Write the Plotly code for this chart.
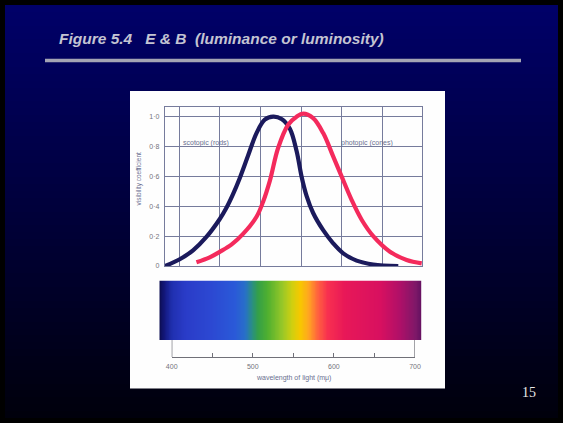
import numpy as np
import plotly.graph_objects as go

W, H = 563, 423

# ---------------- data ----------------
# scotopic (rods) curve: wavelength (nm, as drawn) -> visibility coefficient
scot_wl = [391.7, 409.9, 426.3, 442.8, 459.3, 467.0, 475.5, 484.0, 494.2, 504.6, 514.8, 525.1,
           535.4, 545.7, 554.0, 560.1, 566.3, 574.4, 586.8, 599.1, 611.5, 628.0, 648.5, 679.4]
scot_v = [0.0, 0.045, 0.105, 0.195, 0.315, 0.385, 0.48, 0.59, 0.74, 0.89, 0.98, 1.0,
          0.985, 0.92, 0.77, 0.60, 0.47, 0.355, 0.24, 0.152, 0.085, 0.036, 0.01, 0.0]

# photopic (cones) curve
phot_wl = [430.5, 446.9, 459.6, 474.0, 488.0, 504.6, 512.7, 521.0, 531.2, 543.6, 554.0, 562.1,
           574.4, 586.8, 599.1, 609.5, 621.8, 634.2, 648.5, 669.1, 689.7, 708.3]
phot_v = [0.025, 0.058, 0.096, 0.145, 0.215, 0.33, 0.43, 0.57, 0.79, 0.946, 1.0, 1.02,
          0.99, 0.89, 0.734, 0.60, 0.443, 0.31, 0.20, 0.096, 0.04, 0.018]

y_ticks = [0, 0.2, 0.4, 0.6, 0.8, 1.0]
y_ticktext = ["0", "0·2", "0·4", "0·6", "0·8", "1·0"]
grid_wl = [409.5, 459.5, 509.5, 559.5, 609.5, 659.5]

wl_ticks = [400, 450, 500, 550, 600, 650, 700]
wl_ticktext = ["400", "", "500", "", "600", "", "700"]

# spectrum colour stops (nm -> colour)
spec_nm = [384.3, 391.7, 400, 416, 447, 478, 490, 499, 506, 518, 536, 548, 558,
           568, 580, 592, 613, 657, 681, 700, 708.3]
spec_col = ["#0c0c50", "#151a84", "#2030b0", "#2a3cc8", "#2c48d2", "#2a5ad8", "#2870c8",
            "#2a9080", "#34a048", "#50b030", "#98c828", "#d0d010", "#f8c800", "#ffa820",
            "#ff6040", "#f83050", "#e81858", "#d81060", "#b01068", "#801868", "#601060"]

# ---------------- helpers (pixel -> paper / wavelength) ----------------
def px(x):
    return x / W

def py(y):
    return 1 - y / H

PX_PER_NM = 0.811
X400 = 171.7

def wl(x):
    return 400 + (x - X400) / PX_PER_NM

fig = go.Figure()

# background gradient
rows = 60
bg_y = np.linspace(5, 418, rows + 1)
bg_z = [[i] for i in range(rows)]
fig.add_trace(go.Heatmap(x=[5, 558], y=bg_y, z=bg_z,
                         colorscale=[[0, "#000068"], [0.5, "#00003a"], [1, "#00000c"]],
                         showscale=False, hoverinfo="skip", xaxis="x", yaxis="y"))
# white panel
fig.add_trace(go.Scatter(x=[130, 445, 445, 130, 130], y=[91, 91, 388.5, 388.5, 91],
                         fill="toself", fillcolor="#fefefe", mode="lines",
                         line=dict(width=0, color="#fefefe"), hoverinfo="skip",
                         showlegend=False, xaxis="x", yaxis="y"))
# title underline
fig.add_trace(go.Scatter(x=[45, 521], y=[60.5, 60.5], mode="lines",
                         line=dict(width=3.5, color="#a4a4b4"), hoverinfo="skip",
                         showlegend=False, xaxis="x", yaxis="y"))

# curves
fig.add_trace(go.Scatter(x=scot_wl, y=scot_v, mode="lines", line_shape="spline",
                         line=dict(color="#1b1a5c", width=4.2), showlegend=False,
                         xaxis="x2", yaxis="y2"))
fig.add_trace(go.Scatter(x=phot_wl, y=phot_v, mode="lines", line_shape="spline",
                         line=dict(color="#f42a5c", width=4.2), showlegend=False,
                         xaxis="x2", yaxis="y2"))

# spectrum bar
x_lo, x_hi = wl(159.3), wl(421.7)
sx = np.linspace(x_lo, x_hi, 330)
lo, hi = spec_nm[0], spec_nm[-1]
cscale = [[(n - lo) / (hi - lo), c] for n, c in zip(spec_nm, spec_col)]
cscale[0][0] = 0.0
cscale[-1][0] = 1.0
fig.add_trace(go.Heatmap(x=sx, y=[0, 1], z=[list(sx), list(sx)], zmin=lo, zmax=hi,
                         colorscale=cscale, showscale=False, zsmooth="best",
                         hoverinfo="skip", xaxis="x3", yaxis="y3"))

# bottom wavelength axis holder
fig.add_trace(go.Scatter(x=[400, 700], y=[0, 0], mode="markers", marker=dict(opacity=0),
                         showlegend=False, hoverinfo="skip", xaxis="x4", yaxis="y4"))

grid_col = "#767b9c"
lab_font = dict(family="Liberation Sans, Arial, sans-serif", size=7, color="#74747c")

fig.update_layout(
    template="none",
    width=W, height=H,
    autosize=False,
    margin=dict(l=0, r=0, t=0, b=0, pad=0),
    paper_bgcolor="#000000",
    plot_bgcolor="rgba(0,0,0,0)",
    showlegend=False,
    xaxis=dict(domain=[0, 1], range=[0, W], visible=False, fixedrange=True, automargin=False),
    yaxis=dict(domain=[0, 1], range=[H, 0], visible=False, fixedrange=True, automargin=False),
    xaxis2=dict(domain=[px(165), px(422)], range=[wl(165), wl(422)], anchor="y2",
                tickvals=grid_wl, showticklabels=False, ticks="", automargin=False,
                showgrid=True, gridcolor=grid_col, gridwidth=1.1,
                showline=True, mirror=True, linecolor=grid_col, linewidth=1.4,
                zeroline=False),
    yaxis2=dict(domain=[py(266), py(107)], range=[0, (266 - 107) / 149.3], anchor="x2",
                tickvals=y_ticks, ticktext=y_ticktext, ticks="", automargin=False,
                tickfont=lab_font, ticklabelstandoff=3,
                showgrid=True, gridcolor=grid_col, gridwidth=1.1,
                showline=True, mirror=True, linecolor=grid_col, linewidth=1.4,
                zeroline=False),
    xaxis3=dict(domain=[px(159.3), px(421.7)], range=[x_lo, x_hi], anchor="y3",
                visible=False, automargin=False),
    yaxis3=dict(domain=[py(340), py(280.5)], range=[0, 1], anchor="x3", visible=False,
                automargin=False),
    xaxis4=dict(domain=[px(X400), px(X400 + 300 * PX_PER_NM)], range=[400, 700],
                anchor="y4", tickvals=wl_ticks, ticktext=wl_ticktext, automargin=False,
                ticks="inside", ticklen=4, tickcolor="#707078", tickwidth=1.2,
                showline=True, linecolor="#707078", linewidth=1.3,
                showgrid=False, zeroline=False, tickfont=lab_font, ticklabelstandoff=2),
    yaxis4=dict(domain=[py(357), py(340)], range=[0, 1], anchor="x4", visible=False,
                automargin=False),
)

# end ticks of the wavelength axis
for v in (400, 700):
    fig.add_shape(type="line", xref="x4", yref="y4 domain", x0=v, x1=v, y0=0, y1=1,
                  line=dict(color="#707078", width=1.3))

ann = [
    dict(text="<b><i>Figure 5.4\u00a0\u00a0\u00a0E &amp; B\u00a0\u00a0(luminance or luminosity)</i></b>",
         x=px(57), y=py(38), xanchor="left", yanchor="middle",
         font=dict(family="Liberation Sans, Arial, sans-serif", size=15.5, color="#c4c4d2")),
    dict(text="15", x=px(529), y=py(392), xanchor="center", yanchor="middle",
         font=dict(family="Liberation Serif, Times New Roman, serif", size=14, color="#e8e8e8")),
    dict(text="scotopic (rods)", x=px(206), y=py(143), xanchor="center", yanchor="middle",
         font=dict(family="Liberation Sans, Arial, sans-serif", size=7, color="#6a6f90")),
    dict(text="photopic (cones)", x=px(367), y=py(142.5), xanchor="center", yanchor="middle",
         font=dict(family="Liberation Sans, Arial, sans-serif", size=7, color="#6a6f90")),
    dict(text="visibility coefficient", x=px(138.5), y=py(179), xanchor="center",
         yanchor="middle", textangle=-90,
         font=dict(family="Liberation Sans, Arial, sans-serif", size=6.5, color="#6a6f90")),
    dict(text="wavelength of light (mμ)", x=px(293), y=py(377.5), xanchor="center",
         yanchor="middle",
         font=dict(family="Liberation Sans, Arial, sans-serif", size=7, color="#6a6f90")),
]
for a in ann:
    a.update(xref="paper", yref="paper", showarrow=False)
    fig.add_annotation(**a)

fig.write_html("out.html")
